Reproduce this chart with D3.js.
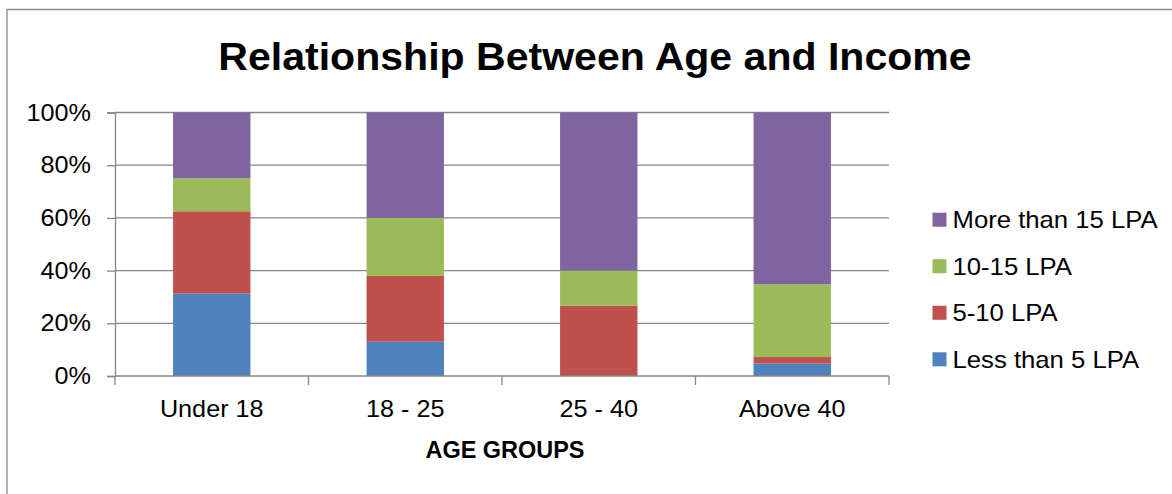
<!DOCTYPE html>
<html>
<head>
<meta charset="utf-8">
<script src="https://cdn.jsdelivr.net/npm/d3@7"></script>
<style>
  html, body { margin: 0; padding: 0; background: #fff; }
  svg { display: block; }
  text { font-family: "Liberation Sans", Arial, sans-serif; fill: #000; }
</style>
</head>
<body>
<svg id="chart" width="1172" height="494"></svg>
<script>
// Age groups on the x axis
const categories = ["Under 18", "18 - 25", "25 - 40", "Above 40"];

// Share of respondents (%) in each income band, per age group
const lessThan5 = [31.25, 13, 0, 4.7];
const fiveTo10 = [31.25, 25, 26.7, 2.5];
const tenTo15 = [12.5, 22, 13.3, 27.6];
const moreThan15 = [25, 40, 60, 65.2];

const seriesNames = ["Less than 5 LPA", "5-10 LPA", "10-15 LPA", "More than 15 LPA"];
const seriesColors = ["#4F81BD", "#C0504D", "#9BBB59", "#8064A2"];
const yTicks = [0, 20, 40, 60, 80, 100];

const title = "Relationship Between Age and Income";
const xTitle = "AGE GROUPS";

// Rows for d3.stack
const rows = categories.map((c, i) => ({
  cat: c,
  s0: lessThan5[i], s1: fiveTo10[i], s2: tenTo15[i], s3: moreThan15[i]
}));
const keys = ["s0", "s1", "s2", "s3"];
const stacked = d3.stack().keys(keys)(rows);

const svg = d3.select("#chart");
const axisGray = "#878787";

// Widen glyphs slightly (the chart's font is a little wider than Liberation Sans)
function widen(sel, factor) {
  sel.each(function () {
    const w = this.getComputedTextLength();
    d3.select(this).attr("textLength", w * factor).attr("lengthAdjust", "spacingAndGlyphs");
  });
}

// Outer frame (left and top edges)
svg.append("path")
  .attr("d", "M7,494 L7,9.5 L1172,9.5")
  .attr("fill", "none").attr("stroke", axisGray).attr("stroke-width", 1.3);

const plot = { left: 115, right: 889, top: 112.5, bottom: 376 };

const x = d3.scaleBand().domain(categories)
  .range([plot.left, plot.right]).paddingInner(0.6).paddingOuter(0.3);
const y = d3.scaleLinear().domain([0, 100]).range([plot.bottom, plot.top]);

// Horizontal gridlines
svg.append("g").selectAll("line").data(yTicks.filter(t => t > 0)).join("line")
  .attr("x1", plot.left).attr("x2", plot.right)
  .attr("y1", d => y(d)).attr("y2", d => y(d))
  .attr("stroke", axisGray).attr("stroke-width", 1.3);

// Stacked bars
svg.append("g").selectAll("g").data(stacked).join("g")
  .attr("fill", (d, i) => seriesColors[i])
  .selectAll("rect").data(d => d).join("rect")
  .attr("x", d => x(d.data.cat))
  .attr("width", x.bandwidth())
  .attr("y", d => y(d[1]))
  .attr("height", d => y(d[0]) - y(d[1]));

// Y axis
const yAxis = d3.axisLeft(y).tickValues(yTicks).tickFormat(d => d + "%")
  .tickSize(8).tickPadding(16);
const gy = svg.append("g").attr("transform", `translate(${plot.left},0)`).call(yAxis);
gy.select(".domain").attr("stroke", axisGray).attr("stroke-width", 1.3);
gy.selectAll(".tick line").attr("stroke", axisGray).attr("stroke-width", 1.3);
gy.selectAll(".tick text").attr("font-size", 24).attr("fill", "#000")
  .attr("font-family", "Liberation Sans, Arial, sans-serif")
  .call(widen, 1.05);

// X axis with ticks at category boundaries
const boundaries = d3.range(categories.length + 1).map(i => plot.left + i * x.step());
const gx = svg.append("g");
gx.append("line").attr("x1", plot.left).attr("x2", plot.right)
  .attr("y1", plot.bottom).attr("y2", plot.bottom)
  .attr("stroke", axisGray).attr("stroke-width", 1.3);
gx.selectAll("line.tk").data(boundaries).join("line").attr("class", "tk")
  .attr("x1", d => d).attr("x2", d => d)
  .attr("y1", plot.bottom).attr("y2", plot.bottom + 9)
  .attr("stroke", axisGray).attr("stroke-width", 1.3);
gx.selectAll("text").data(categories).join("text")
  .attr("x", d => x(d) + x.bandwidth() / 2)
  .attr("y", 417)
  .attr("text-anchor", "middle")
  .attr("font-size", 24)
  .text(d => d)
  .call(widen, 1.05);

// Axis title
svg.append("text")
  .attr("x", (plot.left + plot.right) / 2 + 3).attr("y", 458)
  .attr("text-anchor", "middle").attr("font-size", 23).attr("font-weight", "bold")
  .text(xTitle)
  .call(widen, 1.02);

// Chart title
svg.append("text")
  .attr("x", 595).attr("y", 69.5)
  .attr("text-anchor", "middle").attr("font-size", 38).attr("font-weight", "bold")
  .text(title)
  .call(widen, 1.08);

// Legend (top entry is the top of the stack)
const legendOrder = d3.range(seriesNames.length).reverse();
const ly = d3.scalePoint().domain(legendOrder).range([219.7, 359.3]);
const lg = svg.append("g").selectAll("g").data(legendOrder).join("g")
  .attr("transform", d => `translate(932.5,${ly(d)})`);
lg.append("rect").attr("x", 0).attr("y", -7).attr("width", 14).attr("height", 14)
  .attr("fill", d => seriesColors[d]);
lg.append("text").attr("x", 20).attr("y", 8.5).attr("font-size", 24)
  .text(d => seriesNames[d])
  .call(widen, 1.07);
</script>
</body>
</html>
